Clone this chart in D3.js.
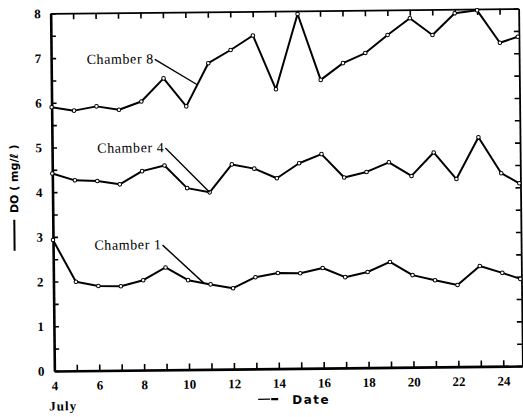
<!DOCTYPE html>
<html>
<head>
<meta charset="utf-8">
<script src="https://cdn.jsdelivr.net/npm/d3@7"></script>
<style>
	body { margin: 0; background: #fff; }
	svg { display: block; }
	.tick text { font-family: "Liberation Serif", serif; font-weight: bold; font-size: 13px; fill: #000; }
	.tick line { stroke: #000; stroke-width: 1.6; }
</style>
</head>
<body>
<svg id="chart" width="523" height="417"></svg>
<script>
// days of July (last reading sits on the right frame)
let days = [4, 5, 6, 7, 8, 9, 10, 11, 12, 13, 14, 15, 16, 17, 18, 19, 20, 21, 22, 23, 24, 24.8];

// dissolved oxygen, mg/l
let chamber1 = [2.93, 1.99, 1.89, 1.88, 2.01, 2.29, 2.00, 1.90, 1.81, 2.05, 2.14,
	2.13, 2.24, 2.03, 2.14, 2.36, 2.06, 1.94, 1.83, 2.25, 2.09, 1.95];
let chamber4 = [4.42, 4.26, 4.24, 4.16, 4.45, 4.57, 4.06, 3.96, 4.58, 4.48, 4.26,
	4.59, 4.79, 4.26, 4.38, 4.59, 4.28, 4.80, 4.20, 5.13, 4.32, 4.09];
let chamber8 = [5.90, 5.82, 5.91, 5.83, 6.01, 6.52, 5.89, 6.85, 7.14, 7.46, 6.25,
	7.93, 6.45, 6.82, 7.04, 7.44, 7.81, 7.43, 7.91, 7.97, 7.24, 7.37];

let xTicks = [4, 5, 6, 7, 8, 9, 10, 11, 12, 13, 14, 15, 16, 17, 18, 19, 20, 21, 22, 23, 24];
let yTicks = [0, 0.5, 1, 1.5, 2, 2.5, 3, 3.5, 4, 4.5, 5, 5.5, 6, 6.5, 7, 7.5, 8];

// name, series, where the leader starts (day, value), day where it meets the line
let labels = [
	{ name: 'Chamber 8', values: chamber8, from: [8.62, 6.95], to: 10.5 },
	{ name: 'Chamber 4', values: chamber4, from: [9.05, 4.96], to: 11 },
	{ name: 'Chamber 1', values: chamber1, from: [8.88, 2.79], to: 10.7 }
];

let width = 523;
let height = 417;
let margin = { top: 11, right: 2.5, bottom: 48.5, left: 52.5 };

let x = d3.scaleLinear()
	.domain([4, 24.85])
	.range([margin.left, width - margin.right]);

let y = d3.scaleLinear()
	.domain([0, 8])
	.range([height - margin.bottom, margin.top]);

let svg = d3.select('#chart');

// the scanned page is slightly tilted
let g = svg.append('g')
	.attr('transform', 'rotate(-0.6,' + ((margin.left + width - margin.right) / 2) + ',' +
		((margin.top + height - margin.bottom) / 2) + ')');

// frame + inward ticks
g.append('g')
	.attr('transform', 'translate(0,' + y(0) + ')')
	.call(d3.axisBottom(x).tickValues(xTicks).tickSizeInner(-6).tickSizeOuter(0)
		.tickPadding(10).tickFormat(d => d % 2 === 0 ? d : ''))
	.call(a => a.select('.domain').attr('stroke-width', 2.6));

g.append('g')
	.attr('transform', 'translate(0,' + y(8) + ')')
	.call(d3.axisTop(x).tickValues(xTicks).tickSizeInner(-6).tickSizeOuter(0).tickFormat(''))
	.call(a => a.select('.domain').attr('stroke-width', 1.8));

g.append('g')
	.attr('transform', 'translate(' + x(4) + ',0)')
	.call(d3.axisLeft(y).tickValues(yTicks).tickSizeInner(-5).tickSizeOuter(0)
		.tickPadding(10).tickFormat(d => Number.isInteger(d) ? d : ''))
	.call(a => a.select('.domain').attr('stroke-width', 2.6));

g.append('g')
	.attr('transform', 'translate(' + x(24.85) + ',0)')
	.call(d3.axisRight(y).tickValues(yTicks).tickSizeInner(-5).tickSizeOuter(0).tickFormat(''))
	.call(a => a.select('.domain').attr('stroke-width', 1.8));

// series
let line = d3.line()
	.x((d, i) => x(days[i]))
	.y(d => y(d));

[chamber1, chamber4, chamber8].forEach(values => {
	g.append('path')
		.datum(values)
		.attr('d', line)
		.attr('fill', 'none')
		.attr('stroke', '#000')
		.attr('stroke-width', 2)
		.attr('stroke-linejoin', 'round');

	g.selectAll(null)
		.data(values)
		.enter()
		.append('circle')
		.attr('cx', (d, i) => x(days[i]))
		.attr('cy', d => y(d))
		.attr('r', 1.8)
		.attr('fill', '#fff')
		.attr('stroke', '#000')
		.attr('stroke-width', 1);
});

// labels with leader lines
labels.forEach(l => {
	let onLine = d3.scaleLinear().domain(days).range(l.values);
	g.append('line')
		.attr('x1', x(l.from[0]))
		.attr('y1', y(l.from[1]))
		.attr('x2', x(l.to))
		.attr('y2', y(onLine(l.to)))
		.attr('stroke', '#000')
		.attr('stroke-width', 1.4);
	g.append('text')
		.attr('x', x(l.from[0]) - 1)
		.attr('y', y(l.from[1]) + 4)
		.attr('text-anchor', 'end')
		.attr('font-family', '"Liberation Serif", serif')
		.attr('font-size', 14)
		.attr('letter-spacing', 0.6)
		.text(l.name);
});

// axis titles
g.append('text')
	.attr('transform', 'translate(18,176) rotate(-90)')
	.attr('text-anchor', 'middle')
	.attr('font-family', '"DejaVu Sans", sans-serif')
	.attr('font-weight', 'bold')
	.attr('font-size', 11)
	.text('DO ( mg/ℓ )');

g.append('line')
	.attr('x1', 14).attr('x2', 14)
	.attr('y1', 217).attr('y2', 248)
	.attr('stroke', '#000')
	.attr('stroke-width', 2);

g.append('text')
	.attr('x', 47)
	.attr('y', 408)
	.attr('font-family', '"Liberation Serif", serif')
	.attr('font-weight', 'bold')
	.attr('font-size', 13)
	.attr('letter-spacing', 1)
	.text('July');

g.append('line')
	.attr('x1', 256).attr('x2', 268)
	.attr('y1', 399).attr('y2', 399)
	.attr('stroke', '#000')
	.attr('stroke-width', 1.3);

g.append('line')
	.attr('x1', 269).attr('x2', 276)
	.attr('y1', 399).attr('y2', 399)
	.attr('stroke', '#000')
	.attr('stroke-width', 2.4);

g.append('text')
	.attr('x', 290)
	.attr('y', 404)
	.attr('font-family', '"DejaVu Sans", sans-serif')
	.attr('font-weight', 'bold')
	.attr('font-size', 12)
	.attr('letter-spacing', 1.5)
	.text('Date');
</script>
</body>
</html>
